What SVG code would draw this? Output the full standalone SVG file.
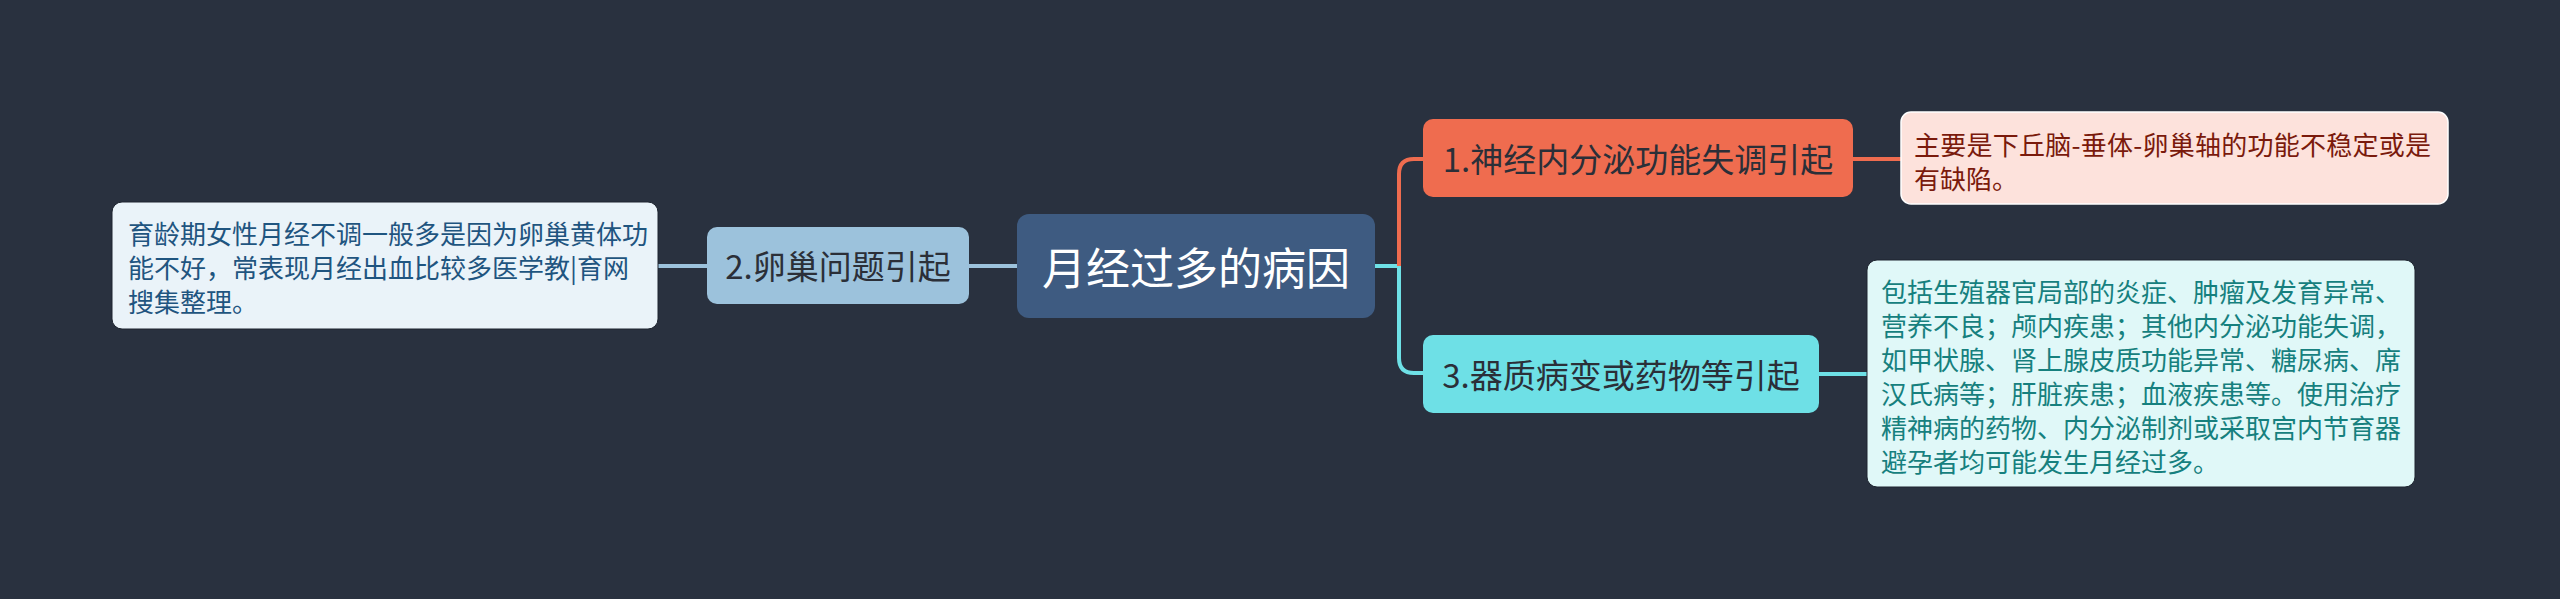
<svg xmlns="http://www.w3.org/2000/svg" width="2560" height="599" viewBox="0 0 2560 599">
<style>
text{font-family:"Noto Sans CJK SC","Noto Sans",sans-serif;dominant-baseline:central}
.c{text-anchor:middle}
.conn path{fill:none;stroke-width:4}
.leaf{font-size:26px}
.br{font-size:33px;fill:#2b2f38}
</style>
<rect width="2560" height="599" fill="#29313f"/>
<g class="conn">
<path d="M658,266 H707" stroke="#9cc2dc"/>
<path d="M969,266 H1017" stroke="#9cc2dc"/>
<path d="M1375,266 H1399 V358 Q1399,373 1414,373 H1423" stroke="#6ee0e6"/>
<path d="M1399,266 V174 Q1399,159 1414,159 H1423" stroke="#ef6c4f"/>
<path d="M1853,159 H1901" stroke="#ef6c4f"/>
<path d="M1819,374 H1867" stroke="#6ee0e6"/>
</g>
<g id="center">
<rect x="1017" y="214" width="358" height="104" rx="12" fill="#3e5b81"/>
<text class="c" x="1196" y="266" font-size="44" fill="#ffffff">月经过多的病因</text>
</g>
<g id="b2">
<rect x="707" y="227" width="262" height="77" rx="10" fill="#9cc2dc"/>
<text class="c br" x="838" y="265">2.卵巢问题引起</text>
</g>
<g id="leaf2">
<rect x="112" y="202" width="546" height="127" rx="10" fill="#eaf3f9" stroke="#1e2530" stroke-width="1"/>
<text class="leaf" fill="#1f5580"><tspan x="128" y="232">育龄期女性月经不调一般多是因为卵巢黄体功</tspan><tspan x="128" y="266">能不好，常表现月经出血比较多医学教|育网</tspan><tspan x="128" y="300">搜集整理。</tspan></text>
</g>
<g id="b1">
<rect x="1423" y="119" width="430" height="78" rx="10" fill="#ef6c4f"/>
<text class="c br" x="1638" y="158" fill="#3a2724">1.神经内分泌功能失调引起</text>
</g>
<g id="leaf1">
<rect x="1901" y="112" width="547" height="92" rx="10" fill="#fde2dc" stroke="#ffffff" stroke-width="1.5"/>
<text class="leaf" fill="#7a1a0c"><tspan x="1914" y="143" textLength="517" lengthAdjust="spacing">主要是下丘脑-垂体-卵巢轴的功能不稳定或是</tspan><tspan x="1914" y="177">有缺陷。</tspan></text>
</g>
<g id="b3">
<rect x="1423" y="335" width="396" height="78" rx="10" fill="#6ee0e6"/>
<text class="c br" x="1621" y="374">3.器质病变或药物等引起</text>
</g>
<g id="leaf3">
<rect x="1867" y="260" width="548" height="227" rx="10" fill="#e0f8f8" stroke="#1e2530" stroke-width="1"/>
<text class="leaf" fill="#16807e"><tspan x="1881" y="290">包括生殖器官局部的炎症、肿瘤及发育异常、</tspan><tspan x="1881" y="324">营养不良；颅内疾患；其他内分泌功能失调，</tspan><tspan x="1881" y="358">如甲状腺、肾上腺皮质功能异常、糖尿病、席</tspan><tspan x="1881" y="392">汉氏病等；肝脏疾患；血液疾患等。使用治疗</tspan><tspan x="1881" y="426">精神病的药物、内分泌制剂或采取宫内节育器</tspan><tspan x="1881" y="460">避孕者均可能发生月经过多。</tspan></text>
</g>
</svg>
